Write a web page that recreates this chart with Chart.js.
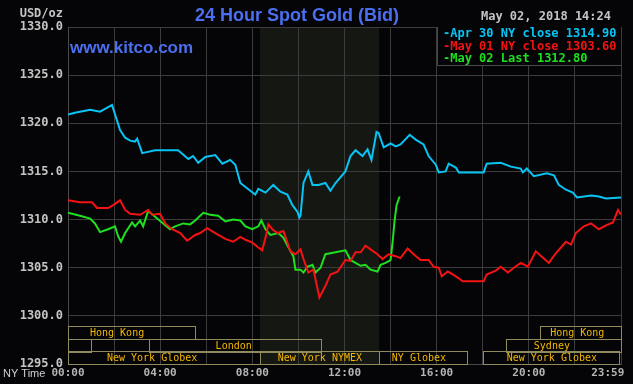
<!DOCTYPE html>
<html>
<head>
<meta charset="utf-8">
<script src="https://cdn.jsdelivr.net/npm/chart.js@4.4.1/dist/chart.umd.min.js"></script>
<style>
  html, body { margin: 0; padding: 0; background: #050507; }
  canvas { display: block; }
</style>
</head>
<body>
<canvas id="goldChart" width="633" height="384"></canvas>
<script>
// hours after midnight (NY time) and bid price
const aprHours = [0, 0.30, 0.96, 1.39, 1.91, 2.26, 2.48, 2.70, 2.91, 3.00, 3.22, 3.78, 4.78, 5.22, 5.43, 5.65, 5.96, 6.39, 6.70, 7.04, 7.26, 7.48, 7.91, 8.13, 8.26, 8.57, 8.91, 9.22, 9.52, 9.74, 9.96, 10.04, 10.09, 10.22, 10.43, 10.61, 10.87, 11.17, 11.39, 11.61, 12.04, 12.26, 12.48, 12.78, 13.00, 13.17, 13.39, 13.48, 13.70, 14.00, 14.22, 14.43, 14.83, 15.09, 15.43, 15.65, 15.96, 16.09, 16.39, 16.52, 16.83, 16.96, 18.04, 18.17, 18.78, 19.22, 19.65, 19.74, 19.91, 20.22, 20.78, 21.09, 21.30, 21.61, 21.91, 22.09, 22.70, 23.04, 23.35, 24.00];
const aprPrices = [1320.9, 1321.1, 1321.4, 1321.2, 1321.9, 1319.3, 1318.5, 1318.2, 1318.1, 1318.4, 1316.9, 1317.2, 1317.2, 1316.3, 1316.6, 1315.9, 1316.5, 1316.7, 1315.8, 1316.2, 1315.7, 1313.8, 1313.0, 1312.6, 1313.2, 1312.8, 1313.6, 1312.9, 1312.6, 1311.5, 1310.8, 1310.2, 1310.4, 1313.8, 1315.0, 1313.6, 1313.6, 1313.8, 1313.0, 1313.8, 1315.0, 1316.6, 1317.2, 1316.6, 1317.3, 1316.2, 1319.1, 1319.0, 1317.5, 1317.9, 1317.6, 1317.8, 1318.8, 1318.3, 1317.8, 1316.6, 1315.7, 1314.9, 1315.0, 1315.8, 1315.4, 1314.9, 1314.9, 1315.8, 1315.9, 1315.5, 1315.3, 1314.9, 1315.3, 1314.5, 1314.8, 1314.6, 1313.6, 1313.1, 1312.8, 1312.3, 1312.5, 1312.4, 1312.2, 1312.3];

const mayOneHours = [0, 0.52, 1.04, 1.26, 1.74, 1.96, 2.26, 2.48, 2.70, 3.13, 3.48, 3.65, 4.00, 4.22, 4.52, 4.87, 5.17, 5.52, 5.74, 6.04, 6.39, 6.83, 7.17, 7.48, 7.70, 8.00, 8.26, 8.43, 8.57, 8.70, 8.87, 9.09, 9.35, 9.65, 9.87, 10.09, 10.22, 10.43, 10.65, 10.91, 11.17, 11.39, 11.70, 12.04, 12.26, 12.48, 12.70, 12.91, 13.13, 13.43, 13.65, 13.91, 14.22, 14.43, 14.74, 15.00, 15.30, 15.65, 15.87, 16.09, 16.22, 16.48, 16.70, 16.96, 17.13, 18.04, 18.17, 18.57, 18.78, 19.09, 19.35, 19.65, 19.96, 20.30, 20.87, 21.17, 21.61, 21.83, 22.04, 22.39, 22.70, 23.04, 23.35, 23.65, 23.87, 24.00];
const mayOnePrices = [1312.0, 1311.8, 1311.8, 1311.2, 1311.2, 1311.5, 1312.0, 1311.0, 1310.6, 1310.5, 1311.0, 1310.5, 1310.6, 1309.6, 1309.0, 1308.6, 1307.8, 1308.4, 1308.6, 1309.1, 1308.6, 1308.0, 1307.7, 1308.2, 1307.9, 1307.6, 1307.1, 1306.8, 1308.1, 1309.5, 1309.0, 1308.6, 1308.8, 1306.7, 1306.4, 1306.9, 1305.9, 1304.5, 1304.8, 1301.9, 1303.1, 1304.3, 1304.6, 1305.8, 1305.7, 1306.6, 1306.6, 1307.3, 1306.9, 1306.4, 1305.9, 1306.4, 1306.2, 1306.0, 1307.0, 1306.4, 1305.8, 1305.8, 1305.1, 1305.0, 1304.1, 1304.6, 1304.3, 1303.9, 1303.6, 1303.6, 1304.3, 1304.7, 1305.1, 1304.5, 1305.0, 1305.5, 1305.1, 1306.7, 1305.5, 1306.5, 1307.7, 1307.4, 1308.6, 1309.3, 1309.6, 1309.0, 1309.4, 1309.7, 1311.0, 1310.5];

const mayTwoHours = [0, 0.52, 0.96, 1.17, 1.39, 1.74, 2.04, 2.17, 2.30, 2.48, 2.78, 2.91, 3.13, 3.26, 3.48, 3.78, 4.13, 4.43, 4.65, 5.00, 5.30, 5.52, 5.87, 6.17, 6.52, 6.83, 7.17, 7.48, 7.70, 8.00, 8.26, 8.39, 8.57, 8.78, 9.13, 9.35, 9.57, 9.78, 9.87, 10.09, 10.22, 10.39, 10.61, 10.74, 10.96, 11.17, 11.61, 12.04, 12.26, 12.48, 12.70, 12.91, 13.13, 13.43, 13.57, 13.78, 14.00, 14.09, 14.17, 14.26, 14.39];
const mayTwoPrices = [1310.7, 1310.4, 1310.1, 1309.6, 1308.7, 1309.0, 1309.3, 1308.3, 1307.7, 1308.6, 1309.7, 1309.3, 1309.9, 1309.3, 1310.9, 1310.3, 1309.6, 1309.0, 1309.3, 1309.6, 1309.5, 1309.9, 1310.7, 1310.5, 1310.4, 1309.8, 1310.0, 1309.9, 1309.3, 1309.0, 1309.3, 1309.9, 1309.0, 1308.4, 1308.6, 1308.1, 1307.1, 1306.2, 1304.8, 1304.8, 1304.5, 1305.1, 1305.3, 1304.5, 1305.0, 1306.4, 1306.6, 1306.8, 1305.8, 1305.5, 1305.2, 1305.3, 1304.8, 1304.6, 1305.3, 1305.5, 1305.8, 1307.7, 1309.8, 1311.5, 1312.4];

const seriesLabels = ['-Apr 30 NY close 1314.90', '-May 01 NY close 1303.60', '-May 02 Last 1312.80'];

const xTickHours = [0, 2, 4, 6, 8, 10, 12, 14, 16, 18, 20, 22, 24];
const xTickLabels = ['00:00', '', '04:00', '', '08:00', '', '12:00', '', '16:00', '', '20:00', '', '23:59'];

// trading sessions along the bottom of the chart
const sessionNames = ['Hong Kong', '', 'London', 'New York Globex', 'New York NYMEX', 'NY Globex', 'New York Globex', 'Sydney', 'Hong Kong'];
const sessionRows = [0, 1, 1, 2, 2, 2, 2, 1, 0];
const sessionStart = [0, 0, 3.5, 0, 8.33, 13.5, 18.0, 19.0, 20.5];
const sessionEnd = [5.5, 1.0, 11.0, 8.33, 13.5, 17.33, 23.92, 24, 24];
const sessionLabelAt = [2.13, 0, 7.19, 3.65, 10.93, 15.23, 21.0, 21.0, 22.1];
const nymexShade = [8.33, 13.5];

const mono = '"DejaVu Sans Mono", monospace';
const bg = '#050507';

function points(hours, prices) {
  return hours.map((h, i) => ({ x: h, y: prices[i] }));
}

const decor = {
  id: 'decor',
  beforeDraw(chart) {
    const { ctx, chartArea: a, scales: { x } } = chart;
    ctx.save();
    ctx.fillStyle = bg;
    ctx.fillRect(0, 0, chart.width, chart.height);
    const x0 = x.getPixelForValue(nymexShade[0]);
    const x1 = x.getPixelForValue(nymexShade[1]);
    ctx.fillStyle = '#151713';
    ctx.fillRect(x0, a.top, x1 - x0, a.bottom - a.top);
    ctx.restore();
  },
  beforeDatasetsDraw(chart) {
    const { ctx, chartArea: a, scales: { x } } = chart;
    const rowH = 12.6;
    ctx.save();
    ctx.lineWidth = 1;
    ctx.strokeStyle = '#8f8b5c';
    ctx.fillStyle = '#f5b800';
    ctx.font = '10px ' + mono;
    ctx.textAlign = 'center';
    ctx.textBaseline = 'middle';
    sessionNames.forEach((name, i) => {
      const top = Math.round(a.bottom - (3 - sessionRows[i]) * rowH);
      const x0 = Math.round(x.getPixelForValue(sessionStart[i]));
      const x1 = Math.round(x.getPixelForValue(sessionEnd[i]));
      ctx.strokeRect(x0 + 0.5, top + 0.5, x1 - x0, Math.round(rowH));
      if (name) ctx.fillText(name, x.getPixelForValue(sessionLabelAt[i]), top + rowH / 2 + 1);
    });
    ctx.restore();
  },
  afterDatasetsDraw(chart) {
    const { ctx, chartArea: a } = chart;
    ctx.save();
    ctx.fillStyle = bg;
    ctx.fillRect(437, a.top, a.right - 437, 38);
    ctx.strokeStyle = '#4a4a4a';
    ctx.lineWidth = 1;
    ctx.beginPath();
    ctx.moveTo(437.5, a.top);
    ctx.lineTo(437.5, a.top + 38.5);
    ctx.lineTo(a.right, a.top + 38.5);
    ctx.stroke();
    ctx.font = 'bold 12px ' + mono;
    ctx.textBaseline = 'middle';
    chart.data.datasets.forEach((ds, i) => {
      ctx.fillStyle = ds.borderColor;
      ctx.fillText(ds.label, 443, a.top + 7 + i * 12.5);
    });
    ctx.restore();
  },
  afterDraw(chart) {
    const { ctx } = chart;
    ctx.save();
    ctx.textBaseline = 'middle';
    ctx.fillStyle = '#c4c4c4';
    ctx.font = 'bold 12px ' + mono;
    ctx.textAlign = 'right';
    ctx.fillText('USD/oz', 63, 14);
    ctx.fillText('May 02, 2018 14:24', 611, 17);
    ctx.textAlign = 'left';
    ctx.font = '11px "Liberation Sans", Arial, sans-serif';
    ctx.fillStyle = '#d0d0d0';
    ctx.fillText('NY Time', 3, 374);
    ctx.fillStyle = '#4b6ff0';
    ctx.font = 'bold 17px "Liberation Sans", Arial, sans-serif';
    ctx.fillText('www.kitco.com', 70, 48);
    ctx.textAlign = 'center';
    ctx.font = 'bold 18px "Liberation Sans", Arial, sans-serif';
    ctx.fillText('24 Hour Spot Gold (Bid)', 297, 16);
    ctx.restore();
  }
};

new Chart(document.getElementById('goldChart'), {
  type: 'line',
  data: {
    datasets: [{
      label: seriesLabels[0],
      data: points(aprHours, aprPrices),
      borderColor: '#08c4f4',
      borderWidth: 2,
      pointRadius: 0
    }, {
      label: seriesLabels[1],
      data: points(mayOneHours, mayOnePrices),
      borderColor: '#f51212',
      borderWidth: 2,
      pointRadius: 0
    }, {
      label: seriesLabels[2],
      data: points(mayTwoHours, mayTwoPrices),
      borderColor: '#1ee01e',
      borderWidth: 2,
      pointRadius: 0
    }]
  },
  options: {
    responsive: false,
    animation: false,
    layout: { padding: { top: 27, right: 12, left: 0, bottom: 0 } },
    plugins: { legend: { display: false }, tooltip: { enabled: false } },
    scales: {
      x: {
        type: 'linear',
        min: 0,
        max: 24,
        afterBuildTicks(scale) {
          scale.ticks = xTickHours.map(v => ({ value: v }));
        },
        afterFit(scale) {
          scale.height = 20;
          scale.paddingLeft = 0;
          scale.paddingRight = 0;
        },
        grid: { color: '#3c3c3c', drawTicks: false },
        border: { color: '#4a4a4a' },
        ticks: {
          autoSkip: false,
          maxRotation: 0,
          padding: 3,
          color: '#b4b4b4',
          font: { family: mono, size: 11, weight: 'bold' },
          // last label is pulled left so it stays inside the canvas
          callback: (v, i) => i === xTickLabels.length - 1 ? xTickLabels[i] + '    ' : xTickLabels[i]
        }
      },
      y: {
        min: 1295,
        max: 1330,
        afterFit(scale) {
          scale.width = 68;
          scale.paddingTop = 0;
          scale.paddingBottom = 0;
        },
        grid: { color: '#3c3c3c', drawTicks: false },
        border: { color: '#4a4a4a' },
        ticks: {
          stepSize: 5,
          padding: 5,
          color: '#c4c4c4',
          font: { family: mono, size: 12, weight: 'bold' },
          callback: v => v.toFixed(1)
        }
      }
    }
  },
  plugins: [decor]
});
</script>
</body>
</html>
